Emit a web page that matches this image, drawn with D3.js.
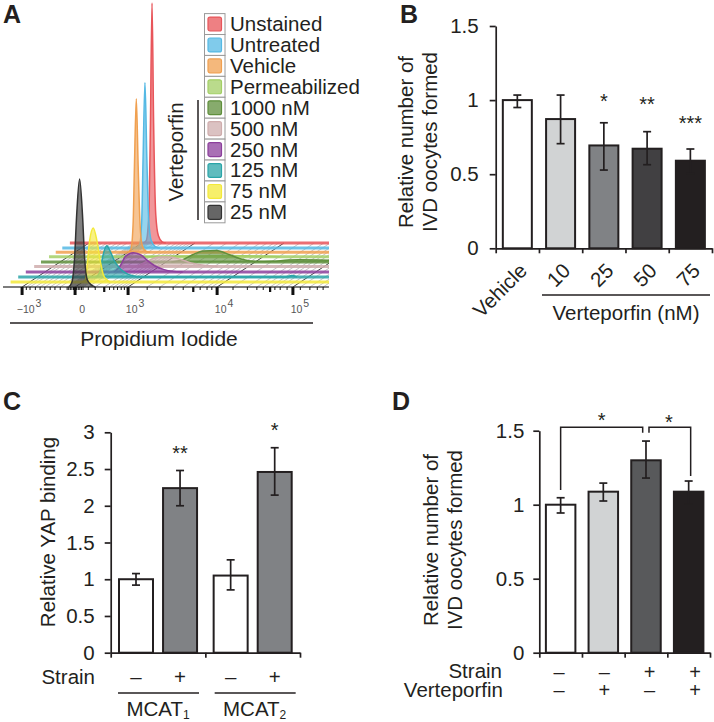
<!DOCTYPE html>
<html>
<head>
<meta charset="utf-8">
<script src="https://cdn.jsdelivr.net/npm/d3@7"></script>
<style>
  html, body { margin: 0; padding: 0; background: #fff; }
  svg { display: block; }
  text { font-family: "Liberation Sans", Arial, sans-serif; fill: #231f20; }
</style>
</head>
<body>
<svg id="chart" width="714" height="722"></svg>
<script>
// panel A, back row first. curves are [position in decades on the display axis, % of tallest peak]
const samples = ['Unstained', 'Untreated', 'Vehicle', 'Permeabilized', '1000 nM', '500 nM', '250 nM', '125 nM', '75 nM', '25 nM'];
const sampleColors = ['#e8555a', '#55b9e4', '#f0a050', '#a3cf66', '#5f8f3c', '#cfadad', '#8c3f9c', '#2ba5a8', '#f3e93a', '#333333'];
const rowLevels = [243, 248, 252.3, 256.7, 262, 266.5, 272, 277, 282, 287];
const curveUnstained = [[.02, 0], [.08, 1], [.13, 12], [.16, 50], [.19, 100], [.22, 50], [.26, 12], [.31, 3], [.38, .5], [.45, 0]];
const curveUntreated = [[.04, 0], [.1, 1.5], [.14, 12], [.165, 38], [.2, 69], [.235, 38], [.27, 12], [.32, 3], [.4, .5], [.48, 0]];
const curveVehicle = [[0, 0], [.06, 1.5], [.1, 12], [.125, 36], [.16, 64], [.195, 36], [.23, 12], [.27, 3], [.34, .5], [.42, 0]];
const curvePerm = [[.1, 0], [1.5, .3], [2, .5], [2.5, .3], [3, 0]];
const curve1000 = [[1.1, 0], [1.3, .8], [1.5, 3], [1.7, 4.6], [1.95, 4.8], [2.2, 3], [2.45, 1], [2.7, .2], [3, .3], [3.3, .8], [3.5, .9], [3.9, .8], [4.3, .5]];
const curve500 = [[.6, 0], [.8, 2.5], [1, 4], [1.2, 4], [1.4, 3], [1.6, 1.5], [1.85, .5], [2.1, 0]];
const curve250 = [[.3, 0], [.42, 2.5], [.52, 6.5], [.67, 8], [.82, 7], [.95, 4.5], [1.08, 2.5], [1.25, 1], [1.4, .3], [1.6, 0]];
const curve125 = [[.1, 0], [.18, 2], [.24, 9], [.31, 13], [.38, 10.5], [.46, 6.5], [.56, 3.5], [.68, 1.5], [.8, .5], [.95, 0], [3.7, 0], [3.8, .6], [3.9, 0]];
const curve75 = [[-.02, 0], [.05, 1], [.09, 8], [.13, 17], [.2, 22.5], [.27, 17], [.33, 9], [.39, 3], [.45, 1], [.52, 0]];
const curve25 = [[-.12, 0], [-.06, 2], [-.01, 12], [.03, 30], [.085, 45], [.14, 30], [.18, 12], [.23, 3], [.3, 1], [.38, 0]];
const sampleCurves = [curveUnstained, curveUntreated, curveVehicle, curvePerm, curve1000, curve500, curve250, curve125, curve75, curve25];
const majorTicks = [-1, 0, 1, 2.68, 4.11];
const majorBases = ['\u221210', '0', '10', '10', '10'];
const majorExps = ['3', '', '3', '4', '5'];
const mediumTicks = [.55, 2.23, 3.68];
const minorTicks = [-.92, -.85, -.75, -.66, -.57, -.47, -.38, -.28, -.15, -.12, -.09, -.06, -.03, .03, .06, .09, .12, .15,
  .25, .38, .65, .73, .8, .87, .93, 1.36, 1.6, 1.85, 2.04, 2.36, 2.49, 2.58, 2.98, 3.25, 3.43, 3.55, 3.77, 3.87, 4, 4.25, 4.43, 4.57, 4.68];

// panel B
const bCats = ['Vehicle', '10', '25', '50', '75'];
const bValues = [1, .872, .694, .672, .591];
const bLow = [.95, .706, .528, .564, .506];
const bHigh = [1.034, 1.034, .847, .787, .67];
const bFills = ['#ffffff', '#d1d3d4', '#808285', '#414042', '#231f20'];
const bStars = ['', '', '*', '**', '***'];
const bStarLevels = [0, 0, 1.01, .99, .86];

// panel C
const cGroups = ['MCAT1', 'MCAT2'];
const cStrain = ['\u2013', '+'];
const cValues = [[1, 2.24], [1.05, 2.46]];
const cLow = [[.92, 2], [.855, 2.145]];
const cHigh = [[1.077, 2.48], [1.264, 2.79]];
const cFills = ['#ffffff', '#808285'];
const cStars = [['', '**'], ['', '*']];
const cStarLevels = [[0, 2.75], [0, 3.06]];

// panel D
const dCats = ['a', 'b', 'c', 'd'];
const dValues = [1, 1.088, 1.3, 1.088];
const dLow = [.944, 1.025, 1.18, 1.005];
const dHigh = [1.047, 1.146, 1.43, 1.16];
const dFills = ['#ffffff', '#d1d3d4', '#58595b', '#231f20'];
const dStrain = ['\u2013', '\u2013', '+', '+'];
const dVerteporfin = ['\u2013', '+', '\u2013', '+'];

const ink = '#231f20';
const svg = d3.select('#chart');

function label(g, x, y, str, size, anchor, rotate) {
    let t = g.append('text')
        .attr('font-size', size)
        .attr('text-anchor', anchor || 'middle')
        .text(str);
    if (rotate) {
        t.attr('transform', `translate(${x},${y}) rotate(${rotate})`);
    } else {
        t.attr('x', x).attr('y', y);
    }
    return t;
}

function rule(g, x1, x2, y) {
    g.append('line').attr('x1', x1).attr('x2', x2).attr('y1', y).attr('y2', y)
        .attr('stroke', ink).attr('stroke-width', 1.6);
}

// y axis, and x axis with ticks on the band edges
function axes(g, y, tickValues, tickFormat, left, right, nEdges, padding) {
    let yAxis = d3.axisLeft(y).tickValues(tickValues).tickFormat(tickFormat)
        .tickSize(6).tickSizeOuter(0).tickPadding(padding);
    let yG = g.append('g').attr('transform', `translate(${left},0)`).call(yAxis);
    yG.selectAll('text').attr('font-size', 20.5).attr('font-family', '"Liberation Sans"').attr('fill', ink);
    yG.selectAll('line,path').attr('stroke', ink).attr('stroke-width', 1.7);

    let edges = d3.scaleLinear().domain([0, nEdges]).range([left, right]);
    let xAxis = d3.axisBottom(edges).tickValues(d3.range(nEdges + 1)).tickFormat('')
        .tickSize(5).tickSizeOuter(0);
    let xG = g.append('g').attr('transform', `translate(0,${y(0)})`).call(xAxis);
    xG.selectAll('line,path').attr('stroke', ink).attr('stroke-width', 1.7);
}

function bars(g, rows, y, width) {
    g.selectAll('rect.bar').data(rows).enter().append('rect')
        .attr('class', 'bar')
        .attr('x', d => d.cx - width / 2)
        .attr('width', width)
        .attr('y', d => y(d.value))
        .attr('height', d => y(0) - y(d.value))
        .attr('fill', d => d.fill)
        .attr('stroke', ink)
        .attr('stroke-width', 2);

    let cap = 4;
    let err = g.selectAll('g.err').data(rows).enter().append('g').attr('class', 'err')
        .attr('stroke', ink).attr('stroke-width', 1.7);
    err.append('line').attr('x1', d => d.cx).attr('x2', d => d.cx).attr('y1', d => y(d.low)).attr('y2', d => y(d.high));
    err.append('line').attr('x1', d => d.cx - cap).attr('x2', d => d.cx + cap).attr('y1', d => y(d.low)).attr('y2', d => y(d.low));
    err.append('line').attr('x1', d => d.cx - cap).attr('x2', d => d.cx + cap).attr('y1', d => y(d.high)).attr('y2', d => y(d.high));
}

drawA(svg.append('g'));
drawB(svg.append('g'));
drawC(svg.append('g'));
drawD(svg.append('g'));

function drawA(g) {
    label(g, 3, 23, 'A', 25, 'start').attr('font-weight', 'bold');

    let rightEdge = 329;
    let slant = 1.52;
    let front = rowLevels[rowLevels.length - 1];
    let back = rowLevels[0];
    let x = d3.scaleLinear().domain([-1.36, 4.79]).range([3, 3 + 6.15 * 53]);
    let h = d3.scaleLinear().domain([0, 100]).range([0, 240]);
    let shift = level => (front - level) * slant;

    svg.append('defs').append('clipPath').attr('id', 'clipA')
        .append('rect').attr('x', 0).attr('y', 0).attr('width', rightEdge).attr('height', 300);
    let plot = g.append('g').attr('clip-path', 'url(#clipA)');

    // floor hatching
    plot.selectAll('line.minor').data(minorTicks.concat(mediumTicks)).enter().append('line')
        .attr('x1', d => x(d)).attr('x2', d => x(d) + shift(back))
        .attr('y1', front).attr('y2', back)
        .attr('stroke', '#b4b4b4').attr('stroke-width', .8);
    plot.selectAll('line.major').data(majorTicks).enter().append('line')
        .attr('x1', d => x(d)).attr('x2', d => x(d) + shift(back))
        .attr('y1', front).attr('y2', back)
        .attr('stroke', '#444').attr('stroke-width', 1);

    let rows = samples.map((name, i) => ({
        name: name, color: sampleColors[i], level: rowLevels[i], curve: sampleCurves[i]
    }));

    let area = d3.area().curve(d3.curveMonotoneX)
        .x(d => x(d[0]))
        .y0(0)
        .y1(d => -h(d[1]));
    let top = d3.line().curve(d3.curveMonotoneX)
        .x(d => x(d[0]))
        .y(d => -h(d[1]));

    let row = plot.selectAll('g.row').data(rows).enter().append('g')
        .attr('class', 'row')
        .attr('transform', d => `translate(${shift(d.level)},${d.level})`);
    row.append('line')
        .attr('x1', x.range()[0]).attr('x2', x.range()[1])
        .attr('stroke', d => d.color)
        .attr('stroke-width', d => d.name === '25 nM' ? 1.6 : 3)
        .attr('stroke-opacity', .85);
    row.append('path').attr('d', d => area(d.curve))
        .attr('fill', d => d.color).attr('fill-opacity', .62);
    row.append('path').attr('d', d => top(d.curve))
        .attr('fill', 'none').attr('stroke', d => d.color).attr('stroke-width', 1.5);

    // axis ticks under the floor
    let tickRows = [[minorTicks, 3, 1], [mediumTicks, 5, 2.2], [majorTicks, 8, 3]];
    tickRows.forEach(([vals, len, w]) => {
        g.selectAll(null).data(vals).enter().append('line')
            .attr('x1', d => x(d)).attr('x2', d => x(d))
            .attr('y1', front).attr('y2', front + len)
            .attr('stroke', '#111').attr('stroke-width', w);
    });

    let tl = g.selectAll('text.dec').data(majorTicks).enter().append('text')
        .attr('class', 'dec')
        .attr('x', d => x(d) + 7)
        .attr('y', 312.5)
        .attr('text-anchor', 'middle')
        .attr('font-size', 10.5)
        .style('fill', '#555');
    tl.append('tspan').text((d, i) => majorBases[i]);
    tl.append('tspan').attr('dy', -6).attr('dx', 1).attr('font-size', 10.5).text((d, i) => majorExps[i]);

    rule(g, 10, 313, 323);
    label(g, 159, 346, 'Propidium Iodide', 21);

    // legend
    let ly = d3.scalePoint().domain(samples).range([24, 212.3]);
    let item = g.selectAll('g.key').data(rows).enter().append('g')
        .attr('class', 'key')
        .attr('transform', d => `translate(204.5,${ly(d.name)})`);
    item.append('rect').attr('x', 0).attr('y', -10.4).attr('width', 20.5).attr('height', 20.9)
        .attr('fill', '#fff').attr('stroke', '#9a9a9a').attr('stroke-width', 1);
    item.append('rect').attr('x', 3.5).attr('y', -6.9).attr('width', 13.5).attr('height', 13.9).attr('rx', 2)
        .attr('fill', d => d.color).attr('fill-opacity', .75)
        .attr('stroke', d => d.color).attr('stroke-width', 1.2);
    item.append('text').attr('x', 25.5).attr('y', 7).attr('font-size', 20.5).text(d => d.name);

    g.append('line').attr('x1', 198).attr('x2', 198).attr('y1', 100).attr('y2', 220)
        .attr('stroke', ink).attr('stroke-width', 1.5);
    label(g, 183, 152, 'Verteporfin', 20.5, 'middle', -90);
}

function drawB(g) {
    label(g, 400, 23, 'B', 25, 'start').attr('font-weight', 'bold');

    let left = 495.7, right = 712;
    let y = d3.scaleLinear().domain([0, 1.5]).range([248.3, 26]);
    let x = d3.scaleBand().domain(bCats).range([left, right]);
    axes(g, y, [0, .5, 1, 1.5], d3.format('~g'), left, right, bCats.length, 11);

    let rows = bCats.map((c, i) => ({
        cx: x(c) + x.bandwidth() / 2, value: bValues[i], low: bLow[i], high: bHigh[i], fill: bFills[i]
    }));
    bars(g, rows, y, 29);

    bCats.forEach((c, i) => {
        let cx = x(c) + x.bandwidth() / 2;
        label(g, cx + 11, 272, c, 20.5, 'end', -45);
        if (bStars[i]) label(g, cx, y(bStarLevels[i]) + 9, bStars[i], 20);
    });

    rule(g, 542, 710, 295);
    label(g, 626, 320, 'Verteporfin (nM)', 20.5);
    label(g, 413, 142, 'Relative number of', 20.5, 'middle', -90);
    label(g, 437, 142, 'IVD oocytes formed', 20.5, 'middle', -90);
}

function drawC(g) {
    label(g, 3, 410, 'C', 25, 'start').attr('font-weight', 'bold');

    let left = 110.7, right = 300;
    let y = d3.scaleLinear().domain([0, 3]).range([652.7, 432.3]);
    let x0 = d3.scaleBand().domain(cGroups).range([left, right]);
    let x1 = d3.scaleBand().domain(cStrain).range([0, x0.bandwidth()]).paddingInner(.227).paddingOuter(.188);
    axes(g, y, [0, .5, 1, 1.5, 2, 2.5, 3], d3.format('~g'), left, right, cGroups.length, 10);

    let rows = [];
    cGroups.forEach((grp, i) => {
        cStrain.forEach((s, j) => {
            let cx = x0(grp) + x1(s) + x1.bandwidth() / 2;
            rows.push({ cx: cx, value: cValues[i][j], low: cLow[i][j], high: cHigh[i][j], fill: cFills[j] });
            label(g, cx, 684, s, 20.5);
            if (cStars[i][j]) label(g, cx, y(cStarLevels[i][j]) + 9, cStars[i][j], 20);
        });
        let mid = x0(grp) + x0.bandwidth() / 2 + i * 2;
        rule(g, mid - 40, mid + 41, 693);
        let t = label(g, mid, 716, grp.slice(0, -1), 20.5);
        t.append('tspan').attr('font-size', 12).attr('dy', 3).text(grp.slice(-1));
    });
    bars(g, rows, y, 34);

    label(g, 95, 684, 'Strain', 20.5, 'end');
    label(g, 55, 532, 'Relative YAP binding', 20.5, 'middle', -90);
}

function drawD(g) {
    label(g, 392, 410, 'D', 25, 'start').attr('font-weight', 'bold');

    let left = 539.3, right = 710;
    let y = d3.scaleLinear().domain([0, 1.5]).range([652.7, 430.7]);
    let x = d3.scaleBand().domain(dCats).range([left, right]);
    axes(g, y, [0, .5, 1, 1.5], d3.format('~g'), left, right, dCats.length, 9);

    let center = c => x(c) + x.bandwidth() / 2;
    let rows = dCats.map((c, i) => ({
        cx: center(c), value: dValues[i], low: dLow[i], high: dHigh[i], fill: dFills[i]
    }));
    bars(g, rows, y, 29.5);

    // the +/- columns sit a little wider than the bars
    let signs = d3.scalePoint().domain(dCats).range([559, 695]);
    dCats.forEach((c, i) => {
        label(g, signs(c), 678.5, dStrain[i], 20);
        label(g, signs(c), 697, dVerteporfin[i], 20);
    });
    label(g, 502, 678, 'Strain', 20.5, 'end');
    label(g, 503, 697, 'Verteporfin', 20.5, 'end');

    // significance brackets
    let path = d3.line().x(d => d[0]).y(d => y(d[1]));
    let brackets = [
        [[center('a'), 1.1], [center('a'), 1.523], [center('c') - 3.3, 1.523], [center('c') - 3.3, 1.486]],
        [[center('c') + 3, 1.486], [center('c') + 3, 1.523], [center('d') + 2, 1.523], [center('d') + 2, 1.194]]
    ];
    g.selectAll('path.bracket').data(brackets).enter().append('path')
        .attr('class', 'bracket')
        .attr('d', path)
        .attr('fill', 'none').attr('stroke', ink).attr('stroke-width', 1.5);
    label(g, 601.7, 427, '*', 20);
    label(g, 669, 429, '*', 20);

    label(g, 438, 540, 'Relative number of', 20.5, 'middle', -90);
    label(g, 462, 540, 'IVD oocytes formed', 20.5, 'middle', -90);
}
</script>
</body>
</html>
